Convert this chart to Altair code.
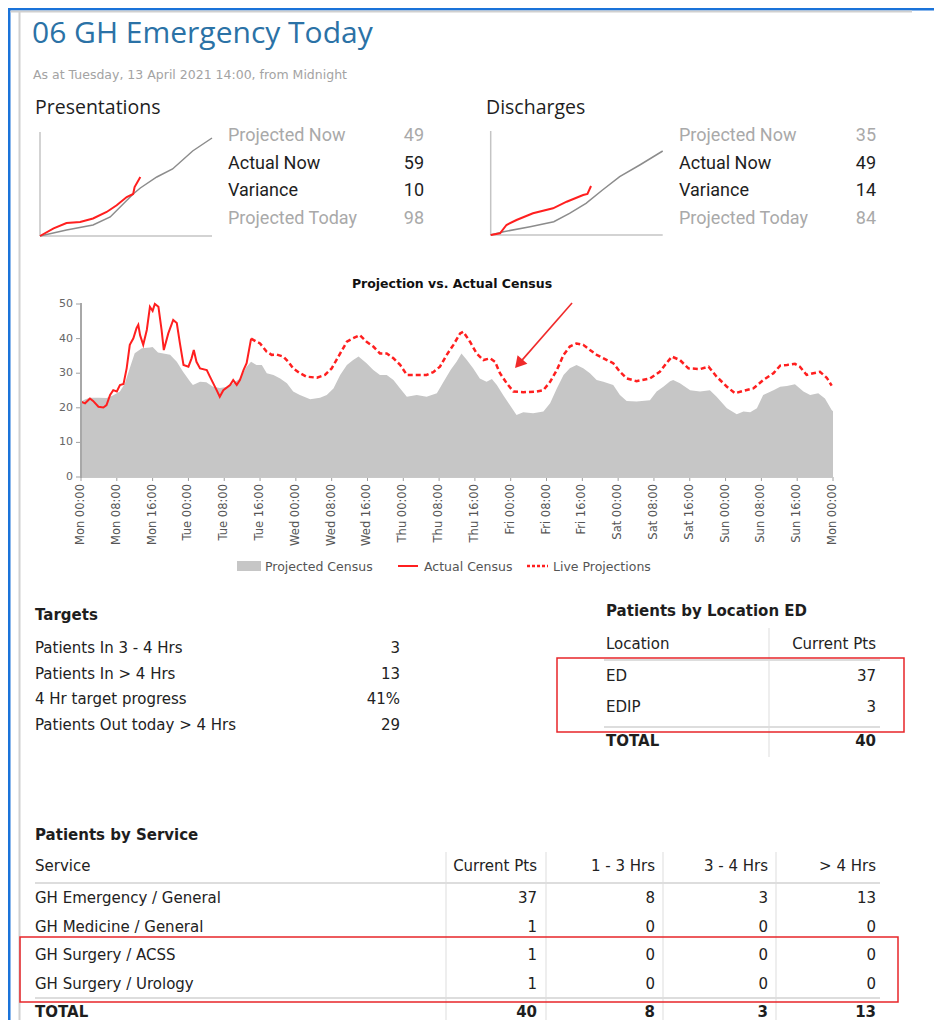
import altair as alt
import pandas as pd

# ------------------------------------------------------------------ data
title_text = "06 GH Emergency Today"
subtitle_text = "As at Tuesday, 13 April 2021 14:00, from Midnight"

stat_labels = ["Projected Now", "Actual Now", "Variance", "Projected Today"]
stat_muted = [True, False, False, True]
pres_stats = [49, 59, 10, 98]
disc_stats = [35, 49, 14, 84]

# cumulative presentations since midnight (hours, count)
pres_proj_hours = [0, 3.7, 7.4, 9.8, 13, 14, 16.3, 18.5, 21.3, 24]
pres_proj_values = [0, 6, 11, 19, 42, 48, 59, 67, 85, 98]
pres_act_hours = [0, 1.9, 3.7, 5.6, 7.4, 9.3, 10.7, 12.1, 13, 13.2, 14]
pres_act_values = [0, 7.6, 13, 14, 17.5, 24, 30.7, 39, 42, 49, 59]

# cumulative discharges since midnight
disc_proj_hours = [0, 1.8, 5.5, 8.8, 11, 13.3, 15.6, 18, 20.8, 24]
disc_proj_values = [0, 3.3, 8.3, 13.3, 21.7, 31.7, 45, 58.3, 70, 84]
disc_act_hours = [0, 1.3, 2.2, 3.6, 5.9, 8.7, 10.6, 12.9, 13.5, 14]
disc_act_values = [0, 1.7, 10, 15, 21.7, 26.7, 33.3, 40, 41, 49]

# census over the week (hours from Monday 00:00)
proj_hours = [0, 1, 2, 4, 5.7, 7, 8.7, 9.8, 11, 12, 13.6, 15.4, 16, 17.2, 19.9, 21.4, 22.8,
              24.4, 25, 26.6, 28, 29.5, 31, 32.5, 34, 35.5, 37, 38, 39.2, 40.4, 41.5, 43,
              44.5, 46, 47.4, 48.9, 51.2, 53.4, 54.9, 56.4, 57.9, 59.4, 60.8, 62, 63.8,
              65.3, 66.8, 68.3, 69.8, 71.3, 72.8, 75, 77.2, 79.5, 81, 82.6, 83.9, 85, 86.2,
              87.6, 89.1, 90.6, 91.8, 92.9, 94.3, 95.8, 97.3, 98.8, 101, 103.3, 104.8,
              106.3, 107.8, 109.2, 110.7, 112.2, 113.7, 115.2, 116.7, 118.9, 120.4, 121.9,
              124.1, 127.1, 128.6, 130.1, 131.6, 132.3, 133.8, 136.1, 138.3, 140.5, 142,
              144.3, 146.5, 148, 149.5, 151, 152.4, 154.7, 156.2, 157.7, 159.5, 161.4,
              162.9, 164.7, 166.2, 167.7, 168]
proj_values = [21.8, 22.5, 22.9, 22.9, 22.8, 23.5, 24.7, 27, 31.9, 35.8, 37.2, 37.4, 37.6, 36,
               35.3, 33.3, 30.4, 27.5, 26.6, 27.5, 27.4, 26.1, 25.7, 26, 27.1, 28.5, 31.9,
               33.3, 32.4, 32.4, 30, 29.5, 28.5, 27.1, 24.7, 23.7, 22.5, 22.9, 23.7, 25.6,
               29.5, 32.4, 33.8, 34.8, 32.9, 30.9, 29.5, 29.5, 28, 25.6, 23.2, 23.7, 23.2,
               24.2, 27.5, 31, 33.3, 35.7, 33.8, 31.4, 28.5, 27.5, 28.3, 26.6, 23.7, 20.8,
               17.9, 18.7, 18.4, 18.9, 21.3, 25.6, 29.5, 31.4, 32.4, 31.4, 30, 28, 27.5,
               26.6, 23.7, 22, 21.8, 22.2, 24.7, 26.1, 27.7, 28, 27.1, 25.1, 24.7, 25.1,
               23.2, 19.9, 18.1, 18.9, 18.7, 19.9, 23.7, 25.1, 26.1, 26.3, 26.8, 24.7,
               23.7, 24.2, 22.7, 19.4, 19]

actual_hours = [0, 0.9, 2, 2.7, 3.9, 5, 5.7, 6.5, 7.2, 8, 8.7, 9.5, 10.2, 10.9, 11.7, 12.4,
                12.8, 13.2, 13.9, 14.7, 15.4, 16, 16.5, 17.3, 18, 18.5, 19.5, 20.6, 21.4,
                22.1, 22.9, 24, 24.7, 25.2, 25.8, 26.6, 28.1, 28.8, 30.3, 31, 31.8, 33.3,
                34, 34.8, 35.5, 36.3, 37, 38]
actual_values = [21.8, 21.3, 22.7, 22, 20.3, 20.1, 20.8, 23.7, 25.1, 24.7, 26.6, 26.9, 31.4,
                 38.2, 40.1, 43, 44, 41, 38.2, 42.5, 49.2, 48, 50, 49.2, 42.5, 36.7, 41.5,
                 45.4, 44.5, 38.6, 32.4, 31.9, 34.3, 36.7, 33.3, 31.4, 30.9, 29, 25.1, 23.2,
                 25.1, 26.6, 28, 26.6, 28, 30.9, 32.9, 40]

live_hours = [38, 39.2, 40, 41.5, 42.6, 43.7, 45.2, 46.3, 47.4, 48.9, 50.4, 52.7, 54.5, 56,
              57.5, 59.4, 60.8, 62.3, 63.8, 65.3, 66.8, 68.3, 69.8, 71.3, 72.8, 75, 77.2,
              78.7, 80.2, 81.7, 83.2, 84.7, 85.4, 86.9, 88.4, 89.9, 91.4, 92.5, 93.6, 95.1,
              96.6, 98.8, 101.8, 103.3, 104.8, 106.3, 107.8, 109.2, 110.7, 112.2, 113.7,
              115.2, 117.5, 118.9, 120.4, 121.9, 124.1, 127.1, 129.3, 130.8, 132, 133.8,
              135.7, 138.3, 140.2, 142, 144.3, 146.1, 148, 150.2, 152.4, 154.7, 156.2,
              157.7, 159.5, 160.6, 162.1, 163.6, 165.1, 166.6, 167.7]
live_values = [40, 39.1, 38.6, 36.2, 35.3, 35.4, 34.8, 33.3, 31.4, 30, 29, 28.7, 29.5, 31.4,
               34.8, 39.1, 40.1, 41, 39.1, 37.7, 35.7, 35.7, 34.3, 32.4, 29.5, 29.5, 29.5,
               30.3, 31.9, 35.3, 38.2, 41.5, 42, 39.1, 35.7, 33.8, 34.3, 33.3, 30, 27.1,
               24.7, 24.5, 24.7, 25.1, 27.5, 30.9, 35.3, 37.7, 38.6, 38.2, 36.7, 35.3, 33.8,
               32.9, 30.4, 28.5, 27.7, 28.5, 30.4, 32.9, 34.8, 33.8, 31.4, 31.2, 31.9, 29,
               26.1, 24.2, 24.9, 25.6, 28, 30, 32.2, 32.4, 32.7, 31.9, 29.5, 30, 30.4, 28.7,
               26.4]

arrow_hours = [109.7, 97.8]
arrow_values = [50.3, 32.7]

census_title = "Projection vs. Actual Census"
census_tick_hours = [0, 8, 16, 24, 32, 40, 48, 56, 64, 72, 80, 88, 96, 104, 112, 120, 128,
                     136, 144, 152, 160, 168]
census_tick_labels = ["Mon 00:00", "Mon 08:00", "Mon 16:00", "Tue 00:00", "Tue 08:00",
                      "Tue 16:00", "Wed 00:00", "Wed 08:00", "Wed 16:00", "Thu 00:00",
                      "Thu 08:00", "Thu 16:00", "Fri 00:00", "Fri 08:00", "Fri 16:00",
                      "Sat 00:00", "Sat 08:00", "Sat 16:00", "Sun 00:00", "Sun 08:00",
                      "Sun 16:00", "Mon 00:00"]
census_y_ticks = [0, 10, 20, 30, 40, 50]
census_legend = ["Projected Census", "Actual Census", "Live Projections"]

target_labels = ["Patients In 3 - 4 Hrs", "Patients In > 4 Hrs", "4 Hr target progress",
                 "Patients Out today > 4 Hrs"]
target_values = ["3", "13", "41%", "29"]

loc_headers = ["Location", "Current Pts"]
loc_names = ["ED", "EDIP"]
loc_pts = [37, 3]
loc_total = 40

svc_headers = ["Service", "Current Pts", "1 - 3 Hrs", "3 - 4 Hrs", "> 4 Hrs"]
svc_names = ["GH Emergency / General", "GH Medicine / General", "GH Surgery / ACSS",
             "GH Surgery / Urology"]
svc_current = [37, 1, 1, 1]
svc_1_3 = [8, 0, 0, 0]
svc_3_4 = [3, 0, 0, 0]
svc_gt4 = [13, 0, 0, 0]
svc_totals = [40, 8, 3, 13]

# ------------------------------------------------------------------ layout
W, H, OFF = 926, 1012, 8
SANS = "Open Sans"
STAT = "Roboto"
VERD = "DejaVu Sans"
TBL = 15
DARK = "#1e1e1e"
BODY = "#222222"
MUTED = "#a9a9a9"
RED = "#ff1f1f"
one = pd.DataFrame({"k": [0]})


def c(v):
    return v - OFF


def text_rows(labels, x, y0, step=0.0, align="left", size=TBL, color=DARK,
              weight="normal", font=VERD, muted=None):
    n = len(labels)
    df = pd.DataFrame({"t": [str(l) for l in labels], "i": list(range(n))})
    span = max(n - 1, 1)
    enc = dict(
        x=alt.value(c(x)),
        y=alt.Y("i:Q", scale=alt.Scale(domain=[0, span],
                                       range=[c(y0), c(y0) + step * span],
                                       nice=False, zero=False), axis=None),
        text="t:N",
    )
    if muted is not None:
        df["m"] = muted
        enc["color"] = alt.condition("datum.m", alt.value(MUTED), alt.value(color))
    return alt.Chart(df).mark_text(align=align, baseline="alphabetic", fontSize=size,
                                   font=font, fontWeight=weight, color=color).encode(**enc)


def box(x1, x2, y1, y2, color):
    return alt.Chart(one).mark_rect(color=color).encode(
        x=alt.value(c(x1)), x2=alt.value(c(x2)), y=alt.value(c(y1)), y2=alt.value(c(y2)))


def outline(x1, x2, y1, y2, color, width):
    return alt.Chart(one).mark_rect(fillOpacity=0, stroke=color, strokeWidth=width).encode(
        x=alt.value(c(x1)), x2=alt.value(c(x2)), y=alt.value(c(y1)), y2=alt.value(c(y2)))


def hline(x1, x2, y, color, width, dash=None):
    kw = dict(color=color, strokeWidth=width)
    if dash:
        kw["strokeDash"] = dash
    return alt.Chart(one).mark_rule(**kw).encode(
        x=alt.value(c(x1)), x2=alt.value(c(x2)), y=alt.value(c(y)))


def vline(x, y1, y2, color, width):
    return alt.Chart(one).mark_rule(color=color, strokeWidth=width).encode(
        x=alt.value(c(x)), y=alt.value(c(y1)), y2=alt.value(c(y2)))


def spark(ph, pv, ah, av, x0, x1, y0, y1):
    xs = alt.Scale(domain=[0, 24], range=[c(x0), c(x1)], nice=False, zero=False)
    ys = alt.Scale(domain=[0, 104], range=[c(y0), c(y1)], nice=False, zero=False)
    gray = alt.Chart(pd.DataFrame({"h": ph, "v": pv})).mark_line(
        color="#8c8c8c", strokeWidth=1.5).encode(
        x=alt.X("h:Q", scale=xs, axis=None), y=alt.Y("v:Q", scale=ys, axis=None))
    red = alt.Chart(pd.DataFrame({"h": ah, "v": av})).mark_line(
        color=RED, strokeWidth=2).encode(
        x=alt.X("h:Q", scale=xs, axis=None), y=alt.Y("v:Q", scale=ys, axis=None))
    return [vline(x0, y1, y0, "#c4c4c4", 1.5), hline(x0, x1, y0, "#c4c4c4", 1.5),
            alt.layer(gray, red)]


layers = []

# frame
layers += [
    box(8, 950, 8, 10.5, "#1a73d9"),
    box(8, 10.5, 8, 1040, "#1a73d9"),
    box(10.5, 912, 10.5, 12.5, "#d0d0d0"),
    box(18.5, 20.5, 12, 1040, "#d0d0d0"),
]

# header
layers += [
    text_rows([title_text], 32, 43, size=30, color="#2b72a6", font=SANS),
    text_rows([subtitle_text], 33, 79, size=12.5, color="#a3a3a3", font=VERD),
    text_rows(["Presentations"], 35, 114, size=19.5, font=SANS),
    text_rows(["Discharges"], 486, 114, size=19.5, font=SANS),
    text_rows(stat_labels, 228, 141, step=27.7, size=18, font=STAT, muted=stat_muted),
    text_rows(pres_stats, 424, 141, step=27.7, size=18, font=STAT, align="right",
              muted=stat_muted),
    text_rows(stat_labels, 679, 141, step=27.7, size=18, font=STAT, muted=stat_muted),
    text_rows(disc_stats, 876, 141, step=27.7, size=18, font=STAT, align="right",
              muted=stat_muted),
]
layers += spark(pres_proj_hours, pres_proj_values, pres_act_hours, pres_act_values,
                40, 212, 236, 132)
layers += spark(disc_proj_hours, disc_proj_values, disc_act_hours, disc_act_values,
                490.7, 662.7, 235, 131)

# census chart
cx = alt.Scale(domain=[0, 168], range=[c(81), c(833)], nice=False, zero=False)
cy = alt.Scale(domain=[0, 50], range=[c(477), c(304)], nice=False, zero=False)
X = lambda: alt.X("h:Q", scale=cx, axis=None)
Y = lambda: alt.Y("v:Q", scale=cy, axis=None)

area = alt.Chart(pd.DataFrame({"h": proj_hours, "v": proj_values})).mark_area(
    color="#c6c6c6", opacity=1).encode(x=X(), y=Y())
act = alt.Chart(pd.DataFrame({"h": actual_hours, "v": actual_values})).mark_line(
    color=RED, strokeWidth=2).encode(x=X(), y=Y())
live = alt.Chart(pd.DataFrame({"h": live_hours, "v": live_values})).mark_line(
    color=RED, strokeWidth=2.5, strokeDash=[5, 3]).encode(x=X(), y=Y())
arrow_df = pd.DataFrame({"h": arrow_hours, "v": arrow_values})
shaft = alt.Chart(arrow_df).mark_line(color="#f02a2a", strokeWidth=1.6).encode(x=X(), y=Y())
head = alt.Chart(arrow_df.tail(1)).mark_point(
    shape="triangle-up", angle=221, size=170, filled=True, color="#f02a2a",
    opacity=1).encode(x=X(), y=Y())

xt = pd.DataFrame({"h": census_tick_hours, "lab": census_tick_labels})
yt = pd.DataFrame({"v": census_y_ticks})
x_ticks = alt.Chart(xt).mark_rule(color="#a0a0a0", strokeWidth=1).encode(
    x=X(), y=alt.value(c(477)), y2=alt.value(c(481)))
x_labels = alt.Chart(xt).mark_text(
    angle=270, align="right", baseline="middle", font=VERD, fontSize=11.5,
    color="#555555").encode(x=X(), y=alt.value(c(484)), text="lab:N")
y_ticks = alt.Chart(yt).mark_rule(color="#a0a0a0", strokeWidth=1).encode(
    y=Y(), x=alt.value(c(76)), x2=alt.value(c(81)))
y_labels = alt.Chart(yt).mark_text(
    align="right", baseline="middle", font=VERD, fontSize=11, color="#666666").encode(
    y=Y(), x=alt.value(c(73)), text="v:Q")

layers.append(alt.layer(area, act, live, shaft, head, x_ticks, x_labels, y_ticks, y_labels))
layers += [
    hline(81, 833, 477.5, "#c8c8c8", 1),
    vline(81, 303, 478, "#a8a8a8", 2),
    text_rows([census_title], 452, 288, size=12.5, weight="bold", font=VERD,
              align="center", color="#111111"),
    box(237, 261, 561, 571, "#c6c6c6"),
    hline(398, 418, 566, RED, 2),
    hline(527, 548, 566, RED, 2.5, dash=[3, 2]),
    text_rows([census_legend[0]], 265, 570.5, size=12.5, color="#555555"),
    text_rows([census_legend[1]], 424, 570.5, size=12.5, color="#555555"),
    text_rows([census_legend[2]], 553, 570.5, size=12.5, color="#555555"),
]

# targets
layers += [
    text_rows(["Targets"], 35, 620, weight="bold"),
    text_rows(target_labels, 35, 653, step=25.7, color=BODY),
    text_rows(target_values, 400, 653, step=25.7, align="right", color=BODY),
]

# patients by location
layers += [
    vline(769, 628, 757, "#dddddd", 1),
    hline(604, 880, 660, "#dddddd", 2),
    hline(604, 880, 727, "#dddddd", 2),
    text_rows(["Patients by Location ED"], 606, 616, weight="bold"),
    text_rows([loc_headers[0]], 606, 649, color=BODY),
    text_rows([loc_headers[1]], 876, 649, align="right", color=BODY),
    text_rows(loc_names, 606, 681, step=31, color=BODY),
    text_rows(loc_pts, 876, 681, step=31, align="right", color=BODY),
    text_rows(["TOTAL"], 606, 746, weight="bold"),
    text_rows([loc_total], 876, 746, weight="bold", align="right"),
    outline(557, 904, 658, 732, "#e8262a", 1.5),
]

# patients by service
svc_right = [537, 655, 768, 876]
svc_cols = [svc_current, svc_1_3, svc_3_4, svc_gt4]
layers += [vline(x, 852, 1040, "#dddddd", 1) for x in [446, 546, 663, 776]]
layers += [
    hline(35, 880, 883, "#dddddd", 2),
    hline(35, 880, 998, "#dddddd", 2),
    text_rows(["Patients by Service"], 35, 840, weight="bold"),
    text_rows([svc_headers[0]], 35, 871, color=BODY),
    text_rows(svc_names, 35, 903, step=28.7, color=BODY),
    text_rows(["TOTAL"], 35, 1017, weight="bold"),
]
for xr, hdr, col, tot in zip(svc_right, svc_headers[1:], svc_cols, svc_totals):
    layers += [
        text_rows([hdr], xr, 871, align="right", color=BODY),
        text_rows(col, xr, 903, step=28.7, align="right", color=BODY),
        text_rows([tot], xr, 1017, weight="bold", align="right"),
    ]
layers.append(outline(20, 898, 937, 1002, "#e8262a", 1.5))

chart = alt.layer(*layers).resolve_scale(
    x="independent", y="independent"
).properties(
    width=W, height=H, padding=0, background="white",
    autosize=alt.AutoSizeParams(type="none"),
).configure_view(strokeWidth=0)

chart.save("out.html", embed_options={"renderer": "svg", "actions": False})
